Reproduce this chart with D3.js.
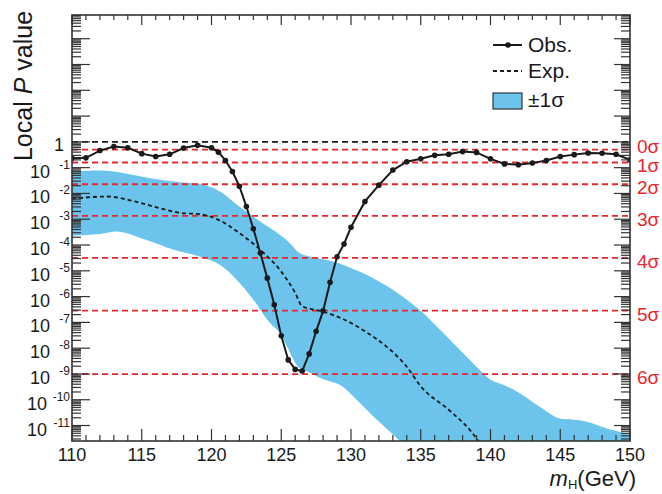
<!DOCTYPE html>
<html>
<head>
<meta charset="utf-8">
<script src="https://cdn.jsdelivr.net/npm/d3@7.9.0/dist/d3.min.js"></script>
<style>
  body { margin: 0; background: #fff; }
  text { font-family: "Liberation Sans", Arial, Helvetica, sans-serif; }
</style>
</head>
<body>
<svg id="chart" width="662" height="494"></svg>
<script>
// observed local p-value
const obsMass = [110, 111, 112, 113, 114, 115, 116, 117, 118, 119, 120, 120.5, 121, 121.5, 122, 122.5, 123, 123.5, 124, 124.5,
  125, 125.5, 126, 126.5, 127, 127.5, 128, 128.5, 129, 129.5, 130, 131, 132, 133, 134, 135, 136, 137, 138, 139, 140,
  141, 142, 143, 144, 145, 146, 147, 148, 149, 150];
const obsP = [2.3e-1, 2.4e-1, 4.6e-1, 6.6e-1, 5.9e-1, 3.5e-1, 2.7e-1, 3.3e-1, 5.8e-1, 7.4e-1, 5.9e-1, 4.0e-1, 1.9e-1, 7.1e-2,
  1.9e-2, 3.1e-3, 4.3e-4, 4.9e-5, 5.2e-6, 4.8e-7, 3.0e-8, 3.5e-9, 1.5e-9, 1.3e-9, 6.0e-9, 4.5e-8, 2.8e-7, 3.6e-6,
  3.5e-5, 1.1e-4, 4.9e-4, 4.9e-3, 2.1e-2, 8.1e-2, 1.7e-1, 2.2e-1, 3.0e-1, 3.3e-1, 4.2e-1, 3.9e-1, 2.2e-1,
  1.4e-1, 1.3e-1, 1.5e-1, 1.9e-1, 2.7e-1, 3.2e-1, 3.7e-1, 3.6e-1, 3.3e-1, 2.0e-1];

// expected local p-value
const expMass = [110, 112.5, 114.5, 116.5, 118, 119, 120.5, 122, 123.5, 125, 126, 126.5, 128, 129.5, 131, 132.5, 134, 135, 137, 138.5, 139.5];
const expP = [6.2e-3, 7.6e-3, 4.9e-3, 2.5e-3, 1.7e-3, 1.6e-3, 9.5e-4, 2.9e-4, 6.5e-5, 9.3e-6, 1.4e-6, 4.2e-7, 2.6e-7, 1.3e-7,
  4.5e-8, 1.2e-8, 1.9e-9, 3.3e-10, 4.1e-11, 6.9e-12, 1.3e-12];

// +-1 sigma band edges
const bandHiMass = [110, 112.5, 114.4, 116.3, 118.2, 119.2, 120.6, 122, 123.5, 124.9, 125.6, 126.3, 127.1, 128.7, 130.6, 132.6,
  134, 135, 136.4, 137.8, 139, 140, 140.9, 142.1, 143.5, 144.9, 145.9, 146.9, 148.3, 150];
const bandHiP = [7.1e-2, 7.6e-2, 5.2e-2, 3.4e-2, 2.6e-2, 2.3e-2, 1.2e-2, 3.1e-3, 8.1e-4, 2.5e-4, 1.2e-4, 4.9e-5, 3.5e-5, 2.3e-5,
  9.3e-6, 2.5e-6, 7.6e-7, 2.8e-7, 5.1e-8, 8.7e-9, 1.9e-9, 6.0e-10, 3.8e-10, 1.8e-10, 5.5e-11, 1.9e-11, 1.7e-11, 1.4e-11,
  7.9e-12, 4.5e-12];
const bandLoMass = [110, 112, 113.4, 115.3, 117.3, 119.2, 120.6, 121.8, 123, 124.2, 124.9, 125.4, 126.3, 127.1, 128, 129.2,
  130.4, 131.7, 133.5, 135, 150];
const bandLoP = [2.3e-4, 2.7e-4, 3.3e-4, 1.6e-4, 6.5e-5, 3.5e-5, 1.7e-5, 4.5e-6, 7.6e-7, 9.3e-8, 4.0e-8, 1.2e-8, 1.7e-9,
  1.1e-9, 6.3e-10, 3.8e-10, 1.0e-10, 2.0e-11, 2.5e-12, 3.2e-13, 1e-14];

// significance reference lines
const sigmaP = [0.5, 0.1587, 0.02275, 1.35e-3, 3.17e-5, 2.87e-7, 9.87e-10];
const sigmaLabels = ["0σ", "1σ", "2σ", "3σ", "4σ", "5σ", "6σ"];

const xMajor = [110, 115, 120, 125, 130, 135, 140, 145, 150];
const yLabelExp = [0, -1, -2, -3, -4, -5, -6, -7, -8, -9, -10, -11];

const red = "#e8262c";
const blue = "#6cc4ec";
const ink = "#1a1a1a";

const svg = d3.select("#chart");
const L = 72, R = 630, T = 15, B = 441;

const x = d3.scaleLinear().domain([110, 150]).range([L, R]);
const y = d3.scaleLog().domain([Math.pow(10, -11.6), Math.pow(10, 4.92)]).range([B, T]);

svg.append("clipPath").attr("id", "plotclip")
  .append("rect").attr("x", L).attr("y", T).attr("width", R - L).attr("height", B - T);

const plot = svg.append("g").attr("clip-path", "url(#plotclip)");

// band
const hiPts = bandHiMass.map((m, i) => [x(m), y(bandHiP[i])]);
const loPts = bandLoMass.map((m, i) => [x(m), y(bandLoP[i])]).reverse();
const edge = d3.line().curve(d3.curveCatmullRom.alpha(0.5));
const bandPath = edge(hiPts) + edge(loPts).replace(/^M/, "L") + "Z";
plot.append("path").attr("d", bandPath).attr("fill", blue);

// sigma lines
plot.selectAll(".sig").data(sigmaP).enter().append("line")
  .attr("x1", L).attr("x2", R)
  .attr("y1", d => y(d)).attr("y2", d => y(d))
  .attr("stroke", red).attr("stroke-width", 1.8).attr("stroke-dasharray", "6,4");

plot.append("line").attr("x1", L).attr("x2", R).attr("y1", y(1)).attr("y2", y(1))
  .attr("stroke", ink).attr("stroke-width", 1.6).attr("stroke-dasharray", "6,4");

// expected
const expLine = d3.line().x(d => x(d[0])).y(d => y(d[1])).curve(d3.curveMonotoneX);
plot.append("path").attr("d", expLine(expMass.map((m, i) => [m, expP[i]])))
  .attr("fill", "none").attr("stroke", ink).attr("stroke-width", 1.8).attr("stroke-dasharray", "4,3");

// observed
const obsData = obsMass.map((m, i) => [m, obsP[i]]);
const obsLine = d3.line().x(d => x(d[0])).y(d => y(d[1]));
plot.append("path").attr("d", obsLine(obsData))
  .attr("fill", "none").attr("stroke", ink).attr("stroke-width", 2);
plot.selectAll(".dot").data(obsData).enter().append("circle")
  .attr("cx", d => x(d[0])).attr("cy", d => y(d[1])).attr("r", 2.8).attr("fill", ink);

// frame and ticks
const axisCol = "#333";
svg.append("rect").attr("x", L).attr("y", T).attr("width", R - L).attr("height", B - T)
  .attr("fill", "none").attr("stroke", axisCol).attr("stroke-width", 1.6);

const ticks = svg.append("g").attr("stroke", axisCol).attr("stroke-width", 1.2);
d3.range(110, 151, 1).forEach(m => {
  const major = m % 5 === 0;
  ticks.append("line").attr("x1", x(m)).attr("x2", x(m)).attr("y1", B).attr("y2", B - (major ? 12 : 6));
  ticks.append("line").attr("x1", x(m)).attr("x2", x(m)).attr("y1", T).attr("y2", T + (major ? 10 : 5));
});
const [ylo, yhi] = y.domain();
for (let k = -12; k <= 4; k++) {
  for (let j = 1; j <= 9; j++) {
    const v = j * Math.pow(10, k);
    if (v < ylo || v > yhi) continue;
    const major = j === 1;
    ticks.append("line").attr("x1", L).attr("x2", L + (major ? 18 : 9)).attr("y1", y(v)).attr("y2", y(v));
    ticks.append("line").attr("x1", R).attr("x2", R - (major ? 16 : 9)).attr("y1", y(v)).attr("y2", y(v));
  }
}

// x tick labels
svg.selectAll(".xl").data(xMajor).enter().append("text")
  .attr("x", d => x(d)).attr("y", 461).attr("text-anchor", "middle")
  .attr("font-size", 18).attr("fill", ink).text(d => d);

// y tick labels
yLabelExp.forEach(k => {
  const yy = y(Math.pow(10, k));
  if (k === 0) {
    svg.append("text").attr("x", 64).attr("y", yy + 9).attr("text-anchor", "end")
      .attr("font-size", 18).attr("fill", ink).text("1");
    return;
  }
  svg.append("text").attr("x", k <= -10 ? 47 : 50).attr("y", yy + 10).attr("text-anchor", "end")
    .attr("font-size", 18).attr("fill", ink).text("10");
  svg.append("text").attr("x", 70).attr("y", yy + 1).attr("text-anchor", "end")
    .attr("font-size", 12).attr("fill", ink).text(k);
});

// sigma labels
svg.selectAll(".sl").data(sigmaP).enter().append("text")
  .attr("x", 637).attr("y", (d, i) => y(d) + (i === 0 ? 3 : 10))
  .attr("font-size", 19).attr("fill", red).text((d, i) => sigmaLabels[i]);

// axis titles
const yt = svg.append("text").attr("transform", "translate(32,86) rotate(-90)")
  .attr("text-anchor", "middle").attr("font-size", 25).attr("fill", ink);
yt.append("tspan").text("Local ");
yt.append("tspan").attr("font-style", "italic").text("P");
yt.append("tspan").text(" value");

const xt = svg.append("text").attr("x", 636).attr("y", 486).attr("text-anchor", "end")
  .attr("font-size", 22).attr("fill", ink);
xt.append("tspan").attr("font-style", "italic").text("m");
xt.append("tspan").attr("font-size", 13).attr("dy", 3).text("H");
xt.append("tspan").attr("dy", -3).text("(GeV)");

// legend
const lg = svg.append("g");
lg.append("line").attr("x1", 493).attr("x2", 522).attr("y1", 45).attr("y2", 45)
  .attr("stroke", ink).attr("stroke-width", 2);
lg.append("circle").attr("cx", 508).attr("cy", 45).attr("r", 2.8).attr("fill", ink);
lg.append("text").attr("x", 528).attr("y", 52).attr("font-size", 21).attr("fill", ink).text("Obs.");
lg.append("line").attr("x1", 493).attr("x2", 522).attr("y1", 71).attr("y2", 71)
  .attr("stroke", ink).attr("stroke-width", 1.8).attr("stroke-dasharray", "4,3");
lg.append("text").attr("x", 528).attr("y", 78).attr("font-size", 21).attr("fill", ink).text("Exp.");
lg.append("rect").attr("x", 493).attr("y", 93).attr("width", 29).attr("height", 16)
  .attr("fill", blue).attr("stroke", "#333").attr("stroke-width", 1.2);
lg.append("text").attr("x", 528).attr("y", 107).attr("font-size", 21).attr("fill", ink).text("±1σ");
</script>
</body>
</html>
